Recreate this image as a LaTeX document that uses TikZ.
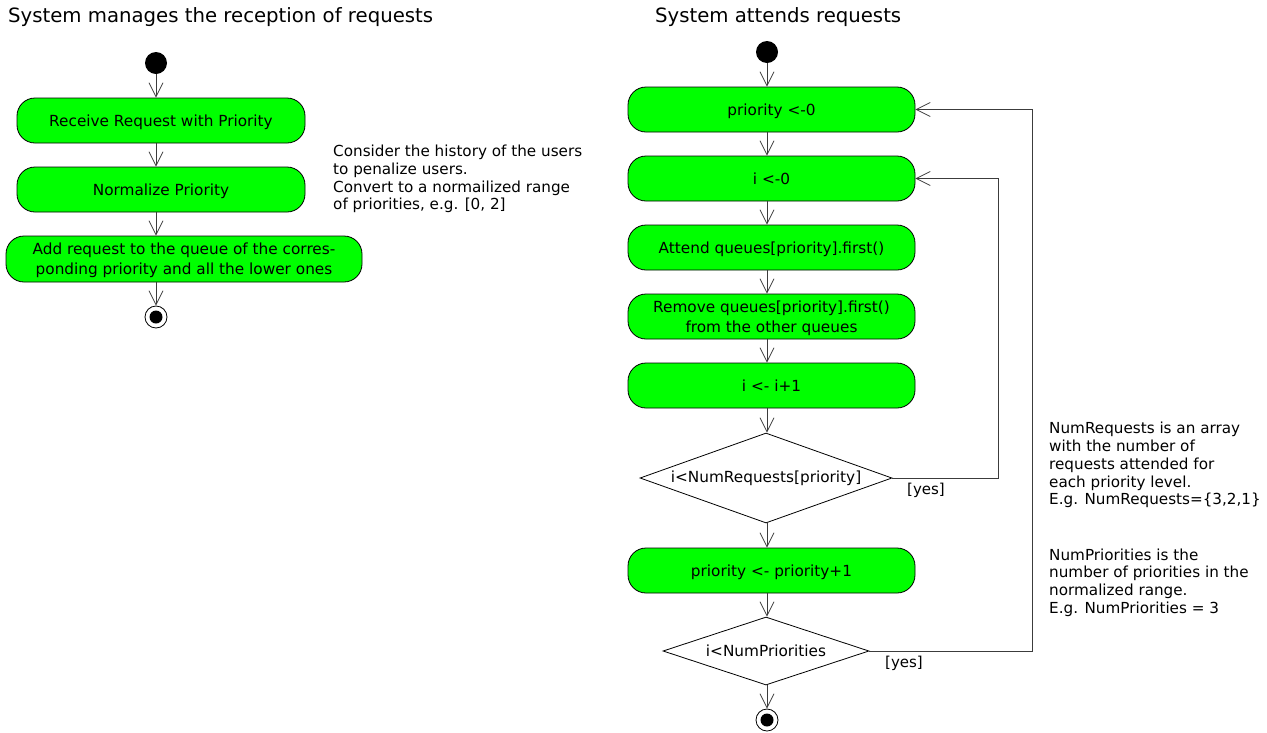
\documentclass[tikz,border=0pt]{standalone}
\usepackage{fontspec}
\setmainfont{DejaVu Sans}
\usetikzlibrary{arrows.meta,shapes.geometric}
\definecolor{actgreen}{RGB}{0,255,0}
\definecolor{linegray}{RGB}{60,60,60}
\tikzset{
  act/.style={draw=black, fill=actgreen, rounded corners=18pt, minimum height=45pt, inner sep=0pt, align=center, text depth=0pt, font=\fontsize{15.3}{19.8}\selectfont, line width=0.8pt},
  dia/.style={shape=diamond, draw=black, fill=white, inner sep=0pt, line width=0.8pt, font=\fontsize{15.3}{19.8}\selectfont},
  startnode/.style={circle, fill=black, minimum size=22pt, inner sep=0pt},
  endnode/.style={circle, draw=black, fill=white, line width=0.8pt, minimum size=22pt, inner sep=0pt,
     path picture={\fill[black] (path picture bounding box.center) circle (6.5pt);}},
  flow/.style={draw=linegray, line width=0.8pt, -{Straight Barb[length=14pt,width=14pt,line width=0.8pt]}},
  title/.style={anchor=west, inner sep=0pt, font=\fontsize{19.7}{23}\selectfont},
  note/.style={anchor=west, inner sep=0pt, align=left, font=\fontsize{15.2}{17.8}\selectfont},
  guard/.style={inner sep=0pt, font=\fontsize{15}{17.5}\selectfont}
}
\begin{document}
\begin{tikzpicture}[x=1pt,y=-1pt]
\useasboundingbox (0,0) rectangle (1267,732);
% ---------- left diagram ----------
\node[title] (t1) at (8,17) {System manages the reception of requests};
\node[startnode] (s1) at (156,63) {};
\node[act, minimum width=288pt] (b1) at (161,120.5) {Receive Request with Priority};
\node[act, minimum width=288pt] (b2) at (161,189.5) {Normalize Priority};
\node[act, minimum width=356pt, minimum height=46pt] (b3) at (184,259) {Add request to the queue of the corres-\\ponding priority and all the lower ones};
\node[endnode] (e1) at (156,317) {};
\draw[flow] (s1) -- (s1 |- b1.north);
\draw[flow] (s1 |- b1.south) -- (s1 |- b2.north);
\draw[flow] (s1 |- b2.south) -- (s1 |- b3.north);
\draw[flow] (s1 |- b3.south) -- (e1);
\node[note] (n1) at (333,179) {Consider the history of the users\\to penalize users.\\Convert to a normailized range\\of priorities, e.g. [0, 2]};
% ---------- right diagram ----------
\node[title] (t2) at (655,17) {System attends requests};
\node[startnode] (s2) at (767,52) {};
\node[act, minimum width=287pt] (ra) at (771.5,109.5) {priority <-0};
\node[act, minimum width=287pt] (rb) at (771.5,178.5) {i <-0};
\node[act, minimum width=287pt] (rc) at (771.5,247.5) {Attend queues[priority].first()};
\node[act, minimum width=287pt] (rd) at (771.5,316.5) {Remove queues[priority].first()\\from the other queues};
\node[act, minimum width=287pt] (re) at (771.5,385.5) {i <- i+1};
\node[dia, minimum width=252pt, minimum height=90pt] (d1) at (766,478) {\makebox[0pt]{\raisebox{-1pt}{i<NumRequests[priority]}}};
\node[act, minimum width=287pt] (rf) at (771.5,570.5) {priority <- priority+1};
\node[dia, minimum width=206pt, minimum height=68pt] (d2) at (766,651) {\makebox[0pt]{\raisebox{-1pt}{i<NumPriorities}}};
\node[endnode] (e2) at (767,720) {};
\draw[flow] (s2) -- (s2 |- ra.north);
\draw[flow] (s2 |- ra.south) -- (s2 |- rb.north);
\draw[flow] (s2 |- rb.south) -- (s2 |- rc.north);
\draw[flow] (s2 |- rc.south) -- (s2 |- rd.north);
\draw[flow] (s2 |- rd.south) -- (s2 |- re.north);
\draw[flow] (s2 |- re.south) -- (s2 |- d1.north);
\draw[flow] (s2 |- d1.south) -- (s2 |- rf.north);
\draw[flow] (s2 |- rf.south) -- (s2 |- d2.north);
\draw[flow] (s2 |- d2.south) -- (e2);
\coordinate (l1) at (998,478);
\coordinate (l2) at (1032,651);
\draw[flow] (d1.east) -- (l1) |- (rb.east);
\draw[flow] (d2.east) -- (l2) |- (ra.east);
\node[guard] (y1) at (926,490) {[yes]};
\node[guard] (y2) at (904,663) {[yes]};
\node[note] (n2) at (1049,465) {NumRequests is an array\\with the number of\\requests attended for\\each priority level.\\E.g. NumRequests=\{3,2,1\}};
\node[note] (n3) at (1049,582.5) {NumPriorities is the\\number of priorities in the\\normalized range.\\E.g. NumPriorities = 3};
\end{tikzpicture}
\end{document}
